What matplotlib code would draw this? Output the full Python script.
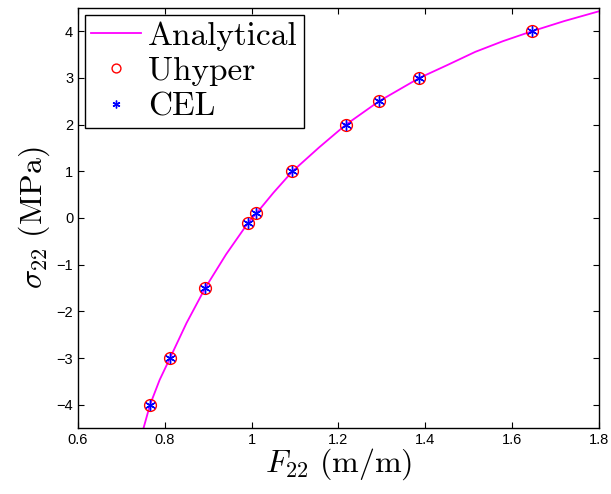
import matplotlib
matplotlib.use("Agg")
import matplotlib.pyplot as plt

# Analytical curve
ana_x = [0.751, 0.766, 0.788, 0.812, 0.850, 0.893, 0.941, 0.992, 1.011, 1.05, 1.094,
         1.155, 1.217, 1.293, 1.386, 1.449, 1.515, 1.579, 1.645, 1.72, 1.8]
ana_y = [-4.5, -4.0, -3.47, -3.0, -2.25, -1.5, -0.78, -0.1, 0.1, 0.54, 1.0,
         1.51, 2.0, 2.5, 3.0, 3.27, 3.56, 3.79, 4.0, 4.22, 4.43]

# Simulation points
pts_x = [0.766, 0.812, 0.893, 0.992, 1.011, 1.094, 1.217, 1.293, 1.386, 1.645]
uhyper_y = [-4.0, -3.0, -1.5, -0.1, 0.1, 1.0, 2.0, 2.5, 3.0, 4.0]
cel_y = [-4.0, -3.0, -1.5, -0.1, 0.1, 1.0, 2.0, 2.5, 3.0, 4.0]

xticks = [0.6, 0.8, 1.0, 1.2, 1.4, 1.6, 1.8]
xtick_labels = ["0.6", "0.8", "1", "1.2", "1.4", "1.6", "1.8"]
yticks = [-4, -3, -2, -1, 0, 1, 2, 3, 4]

plt.rcParams['mathtext.fontset'] = 'cm'
plt.rcParams['font.family'] = ['Liberation Sans', 'DejaVu Sans']

fig = plt.figure(figsize=(6.11, 4.94), dpi=100)
ax = fig.add_axes([78/611, 1-428/494, (599-78)/611, (428-8)/494])

ax.plot(ana_x, ana_y, color='#ff00ff', lw=1.3, label='Analytical')
ax.plot(pts_x, uhyper_y, ls='none', marker='o', mfc='none', mec='red', ms=8.5, mew=1.0, label='Uhyper')
ax.plot(pts_x, cel_y, ls='none', marker=(6, 2, 0), color='blue', ms=7.5, mew=1.0, label='CEL')

ax.set_xlim(0.6, 1.8)
ax.set_ylim(-4.5, 4.5)
ax.set_xticks(xticks)
ax.set_xticklabels(xtick_labels)
ax.set_yticks(yticks)
ax.tick_params(direction='in', top=True, right=True, labelsize=10.5, length=4, width=0.8)
for s in ax.spines.values():
    s.set_linewidth(1.0)

ax.set_xlabel(r'$F_{22}\ \mathrm{(m/m)}$', fontsize=23, labelpad=0)
ax.set_ylabel(r'$\sigma_{22}\ \mathrm{(MPa)}$', fontsize=23, labelpad=3)

leg = ax.legend(loc='upper left', prop={'family': 'cmr10', 'size': 24},
                fancybox=False, edgecolor='black', framealpha=1,
                borderaxespad=0.2, handlelength=1.5, borderpad=0.2,
                labelspacing=0.18, handletextpad=0.2, markerscale=0.75)
leg.get_frame().set_linewidth(1.0)

fig.savefig('out.png', dpi=100)
